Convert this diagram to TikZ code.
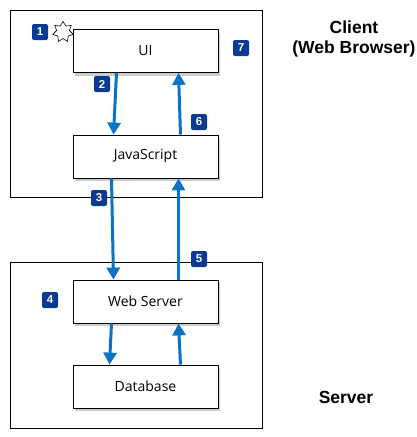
\documentclass[tikz,border=0pt]{standalone}
\usepackage{fontspec}
\setmainfont{Open Sans}
\newfontfamily\labelfont{Liberation Sans}
\usepackage{xcolor}
\usetikzlibrary{arrows.meta,positioning,shadows,shapes.geometric}
\definecolor{arrowblue}{HTML}{0B72C4}
\definecolor{badgeblue}{HTML}{0A3A94}

\begin{document}
\begin{tikzpicture}[
  x=1pt, y=-1pt,
  >=Stealth,
  line width=0.8pt,
  tier/.style={rectangle, draw=black, line width=0.8pt, anchor=north west, inner sep=0pt},
  part/.style={rectangle, draw=black, fill=white, line width=0.8pt, minimum width=145pt, minimum height=43pt, font=\fontsize{14}{16}\selectfont, drop shadow={shadow xshift=2pt, shadow yshift=-3pt, opacity=0.4}},
  flow/.style={-{Triangle[width=13pt, length=12pt]}, draw=arrowblue, line width=3pt},
  badge/.style={rectangle, fill=badgeblue, rounded corners=2pt, minimum size=16pt, inner sep=0pt, text=white, font=\labelfont\bfseries\fontsize{11.5}{11.5}\selectfont},
  tierlabel/.style={align=center, font=\labelfont\bfseries\fontsize{17.5}{20}\selectfont}
]
  \useasboundingbox (0,0) rectangle (417,437);
  % tiers
  \node[tier, minimum width=252pt, minimum height=187pt] (client) at (10,10) {};
  \node[tier, minimum width=252pt, minimum height=166pt] (server) at (10,262) {};
  \node[tierlabel] (clientlbl) at (354,39) {Client\\(Web Browser)};
  \node[tierlabel] (serverlbl) at (346,397) {Server};
  % parts
  \node[part] (ui) at (145.5,51) {UI};
  \node[part] (js) at (145.5,156.5) {JavaScript};
  \node[part] (web) at (145.5,301.5) {Web Server};
  \node[part] (db) at (145.5,386.5) {Database};
  % arrows
  \draw[flow] ([xshift=-29pt]ui.south) -- ([xshift=-32pt]js.north);
  \draw[flow] ([xshift=35pt]js.north) -- ([xshift=33pt]ui.south);
  \draw[flow] ([xshift=-34pt]js.south) -- ([xshift=-32pt]web.north);
  \draw[flow] ([xshift=33pt]web.north) -- ([xshift=33pt]js.south);
  \draw[flow] ([xshift=-34pt]web.south) -- ([xshift=-36pt]db.north);
  \draw[flow] ([xshift=35pt]db.north) -- ([xshift=33pt]web.south);
  % badges
  \node[badge] (b1) at (40,32) {1};
  \node[star, star points=7, star point ratio=1.6, draw=black, fill=white, line width=0.6pt, minimum size=21pt, inner sep=0pt] (burst) at (63,32) {};
  \node[badge] (b2) at (102,84) {2};
  \node[badge] (b3) at (99,198) {3};
  \node[badge] (b4) at (50,300) {4};
  \node[badge] (b5) at (199,259) {5};
  \node[badge] (b6) at (199,122) {6};
  \node[badge] (b7) at (241,48) {7};
\end{tikzpicture}
\end{document}
